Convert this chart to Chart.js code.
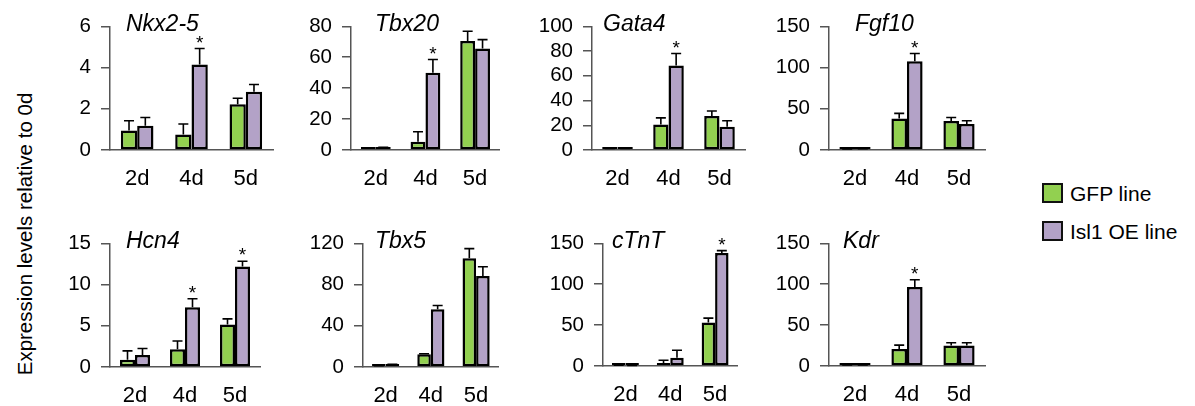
<!DOCTYPE html>
<html>
<head>
<meta charset="utf-8">
<script src="https://cdn.jsdelivr.net/npm/chart.js@4.4.1/dist/chart.umd.min.js"></script>
<style>
  html, body { margin:0; padding:0; background:#fff; }
  #wrap { position:relative; width:1195px; height:406px; overflow:hidden; background:#fff;
          font-family: Arial, "Liberation Sans", sans-serif; color:#000; }
  canvas { position:absolute; }
  #ytitle { position:absolute; left:25px; top:234px; transform:translate(-50%,-50%) rotate(-90deg);
            white-space:nowrap; font-size:20.5px; line-height:1; }
  .lg-box { position:absolute; width:17px; height:16px; border:2px solid #111; }
  .lg-text { position:absolute; font-size:21px; line-height:1; white-space:nowrap; }
</style>
</head>
<body>
<div id="wrap">
  <div id="ytitle">Expression levels relative to 0d</div>
</div>
<script>
// ---------- data ----------
const categories = ['2d', '4d', '5d'];
const seriesNames = ['GFP line', 'Isl1 OE line'];
const geneNames = ['Nkx2-5', 'Tbx20', 'Gata4', 'Fgf10', 'Hcn4', 'Tbx5', 'cTnT', 'Kdr'];

const nkx25GFP = [0.95, 0.75, 2.22];
const nkx25GFPErr = [0.47, 0.51, 0.29];
const nkx25Isl1 = [1.18, 4.15, 2.82];
const nkx25Isl1Err = [0.40, 0.77, 0.36];
const nkx25Sig = [false, true, false];
const nkx25Ticks = [0, 2, 4, 6];

const tbx20GFP = [1.0, 5.4, 70.5];
const tbx20GFPErr = [0.3, 6.4, 6.3];
const tbx20Isl1 = [1.3, 49.9, 65.6];
const tbx20Isl1Err = [0.5, 8.6, 5.8];
const tbx20Sig = [false, true, false];
const tbx20Ticks = [0, 20, 40, 60, 80];

const gata4GFP = [1.0, 20.7, 27.4];
const gata4GFPErr = [0.3, 5.3, 4.1];
const gata4Isl1 = [0.9, 68.3, 18.8];
const gata4Isl1Err = [0.3, 9.7, 4.9];
const gata4Sig = [false, true, false];
const gata4Ticks = [0, 20, 40, 60, 80, 100];

const fgf10GFP = [1.0, 38.3, 35.1];
const fgf10GFPErr = [0.3, 6.1, 4.4];
const fgf10Isl1 = [1.2, 107.7, 31.5];
const fgf10Isl1Err = [0.3, 9.3, 4.0];
const fgf10Sig = [false, true, false];
const fgf10Ticks = [0, 50, 100, 150];

const hcn4GFP = [0.89, 2.15, 5.16];
const hcn4GFPErr = [1.06, 1.01, 0.68];
const hcn4Isl1 = [1.46, 7.26, 12.2];
const hcn4Isl1Err = [0.78, 1.01, 0.62];
const hcn4Sig = [false, true, true];
const hcn4Ticks = [0, 5, 10, 15];

const tbx5GFP = [0.9, 12.3, 105.4];
const tbx5GFPErr = [0.3, 0.5, 9.4];
const tbx5Isl1 = [2.0, 56.1, 88.2];
const tbx5Isl1Err = [0.5, 3.6, 9.1];
const tbx5Sig = [false, false, false];
const tbx5Ticks = [0, 40, 80, 120];

const ctntGFP = [0.8, 1.5, 53.1];
const ctntGFPErr = [0.2, 5.5, 5.4];
const ctntIsl1 = [0.6, 10.2, 138.2];
const ctntIsl1Err = [0.2, 9.0, 2.9];
const ctntSig = [false, false, true];
const ctntTicks = [0, 50, 100, 150];

const kdrGFP = [1.0, 20.7, 25.1];
const kdrGFPErr = [0.3, 4.8, 3.3];
const kdrIsl1 = [1.0, 96.5, 25.1];
const kdrIsl1Err = [0.3, 8.9, 3.3];
const kdrSig = [false, true, false];
const kdrTicks = [0, 50, 100, 150];

// ---------- assembly ----------
const panels = [
  [nkx25GFP, nkx25GFPErr, nkx25Isl1, nkx25Isl1Err, nkx25Sig, nkx25Ticks],
  [tbx20GFP, tbx20GFPErr, tbx20Isl1, tbx20Isl1Err, tbx20Sig, tbx20Ticks],
  [gata4GFP, gata4GFPErr, gata4Isl1, gata4Isl1Err, gata4Sig, gata4Ticks],
  [fgf10GFP, fgf10GFPErr, fgf10Isl1, fgf10Isl1Err, fgf10Sig, fgf10Ticks],
  [hcn4GFP, hcn4GFPErr, hcn4Isl1, hcn4Isl1Err, hcn4Sig, hcn4Ticks],
  [tbx5GFP, tbx5GFPErr, tbx5Isl1, tbx5Isl1Err, tbx5Sig, tbx5Ticks],
  [ctntGFP, ctntGFPErr, ctntIsl1, ctntIsl1Err, ctntSig, ctntTicks],
  [kdrGFP, kdrGFPErr, kdrIsl1, kdrIsl1Err, kdrSig, kdrTicks],
];

// ---------- layout / style ----------
const seriesColors = ['#92D050', '#B3A2C7'];
const axisColor = '#555555';
const FONT = 'Arial, "Liberation Sans", sans-serif';
const geom = [
  {l:110, r:273, t:26,  b:150, tx:126},
  {l:351, r:500, t:26,  b:150, tx:375},
  {l:592, r:745, t:26,  b:150, tx:603},
  {l:829, r:985, t:26,  b:150, tx:855},
  {l:110, r:260, t:243, b:367, tx:126},
  {l:363, r:501, t:243, b:367, tx:375},
  {l:603, r:740, t:243, b:366, tx:612},
  {l:829, r:985, t:243, b:366, tx:843},
];
const YW = 75, PT = 22, XH = 50, PR = 4;

const errPlugin = {
  id: 'errbars',
  afterDatasetsDraw(chart, args, opts) {
    const ctx = chart.ctx;
    const ys = chart.scales.y;
    ctx.save();
    ctx.strokeStyle = '#000';
    ctx.lineWidth = 1.6;
    chart.data.datasets.forEach((ds, d) => {
      const meta = chart.getDatasetMeta(d);
      meta.data.forEach((el, i) => {
        const top = ys.getPixelForValue(ds.data[i] + ds.err[i]);
        ctx.beginPath();
        ctx.moveTo(el.x, el.y);
        ctx.lineTo(el.x, top);
        ctx.moveTo(el.x - 5, top);
        ctx.lineTo(el.x + 5, top);
        ctx.stroke();
        if (ds.sig && ds.sig[i]) {
          ctx.fillStyle = '#000';
          ctx.font = '19px ' + FONT;
          ctx.textAlign = 'center';
          ctx.textBaseline = 'alphabetic';
          ctx.fillText('*', el.x, top);
        }
      });
    });
    // gene title
    ctx.fillStyle = '#000';
    ctx.font = 'italic 23px ' + FONT;
    ctx.textAlign = 'left';
    ctx.textBaseline = 'middle';
    ctx.fillText(opts.title, opts.tx, opts.ty);
    ctx.restore();
  }
};

const wrap = document.getElementById('wrap');

panels.forEach((p, k) => {
  const g = geom[k];
  const [gfp, gfpErr, isl, islErr, sig, ticks] = p;
  const cl = g.l - YW, ct = g.t - PT;
  const cw = (g.r - g.l) + YW + PR;
  const ch = (g.b - g.t) + PT + XH;
  const cv = document.createElement('canvas');
  cv.width = cw; cv.height = ch;
  cv.style.left = cl + 'px'; cv.style.top = ct + 'px';
  cv.style.width = cw + 'px'; cv.style.height = ch + 'px';
  wrap.appendChild(cv);

  new Chart(cv.getContext('2d'), {
    type: 'bar',
    data: {
      labels: categories,
      datasets: [
        { label: seriesNames[0], data: gfp, err: gfpErr, sig: null,
          backgroundColor: seriesColors[0], borderColor: '#000', borderWidth: 2.5, borderSkipped: false,
          minBarLength: 3 },
        { label: seriesNames[1], data: isl, err: islErr, sig: sig,
          backgroundColor: seriesColors[1], borderColor: '#000', borderWidth: 2.5, borderSkipped: false,
          minBarLength: 3 },
      ]
    },
    options: {
      responsive: false,
      animation: false,
      devicePixelRatio: 1,
      layout: { padding: { top: PT, right: PR, bottom: 0, left: 0 } },
      datasets: { bar: { categoryPercentage: 0.6, barPercentage: 1.0 } },
      plugins: {
        legend: { display: false },
        tooltip: { enabled: false },
        title: { display: false },
        errbars: { title: geneNames[k], tx: g.tx - cl, ty: (g.t - 1) - ct },
      },
      scales: {
        x: {
          grid: { display: false, drawTicks: false },
          border: { display: true, color: axisColor, width: 1.5 },
          ticks: { color: '#000', font: { family: FONT, size: 22 }, padding: 16 },
          afterFit(s) { s.height = XH; }
        },
        y: {
          min: ticks[0], max: ticks[ticks.length - 1],
          grid: { drawOnChartArea: false, drawTicks: true, tickLength: 9, color: axisColor, lineWidth: 1.5 },
          border: { display: true, color: axisColor, width: 1.5 },
          ticks: { stepSize: ticks[1] - ticks[0], autoSkip: false, color: '#000',
                   font: { family: FONT, size: 20.5 }, padding: 10 },
          afterFit(s) { s.width = YW; }
        }
      }
    },
    plugins: [errPlugin]
  });
});

// legend
const lgY = [183, 221];
seriesNames.forEach((n, i) => {
  const b = document.createElement('div');
  b.className = 'lg-box';
  b.style.left = '1042px'; b.style.top = lgY[i] + 'px';
  b.style.background = seriesColors[i];
  wrap.appendChild(b);
  const t = document.createElement('div');
  t.className = 'lg-text';
  t.style.left = '1070px'; t.style.top = (lgY[i] + 0) + 'px';
  t.textContent = n;
  wrap.appendChild(t);
});
</script>
</body>
</html>
